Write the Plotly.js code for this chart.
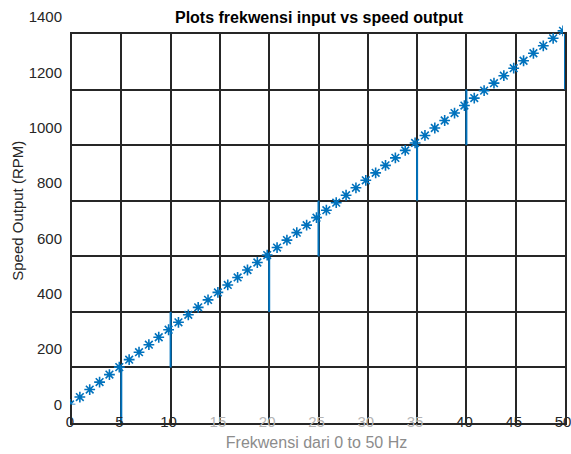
<!DOCTYPE html>
<html>
<head>
<meta charset="utf-8">
<script src="https://cdn.plot.ly/plotly-3.0.1.min.js"></script>
<style>html,body{margin:0;padding:0;background:#fff;}#chart{width:571px;height:454px;}</style>
</head>
<body>
<div id="chart"></div>
<script>
// Data
const frequency = [0,1,2,3,4,5,6,7,8,9,10,11,12,13,14,15,16,17,18,19,20,21,22,23,24,25,26,27,28,29,30,31,32,33,34,35,36,37,38,39,40,41,42,43,44,45,46,47,48,49,50];
const speedRPM = [0,27,54,81,108,135,162,189,216,243,270,297,324,351,378,405,432,459,486,513,540,567,594,621,648,675,702,729,756,783,810,837,864,891,918,945,972,999,1026,1053,1080,1107,1134,1161,1188,1215,1242,1269,1296,1323,1350];
// Blue vertical segments visible on the grid
const segX = [5,10,20,25,35,40,50];
const segFrom = [-70,131,332,533,735,936,1137];
const segTo = [131,332,533,735,936,1137,1338];
// Tick labels
const xTickVals = [0,5,10,15,20,25,30,35,40,45,50];
const xTickText = ['0','5','10','15','20','25','30','35','40','45','50'];
const xTickFaded = [false,false,false,true,true,true,true,true,false,false,false];
const yTickVals = [0,200,400,600,800,1000,1200,1400];

const segXs = [], segYs = [];
for (let i = 0; i < segX.length; i++) {
  segXs.push(segX[i], segX[i], null);
  segYs.push(segFrom[i], segTo[i], null);
}

const font = 'Liberation Sans, Arial, Helvetica, sans-serif';
const W = 571, H = 454;
const m = {l: 70, r: 6, t: 10, b: 31};
const pw = W - m.l - m.r, ph = H - m.t - m.b;
const py = p => (H - m.b - p) / ph;   // pixel y -> paper fraction
const px = p => (p - m.l) / pw;       // pixel x -> paper fraction

const traces = [
  {
    x: segXs, y: segYs, xaxis: 'x', yaxis: 'y',
    mode: 'lines', line: {color: '#0072BD', width: 2},
    hoverinfo: 'skip', showlegend: false
  },
  {
    x: frequency, y: speedRPM, xaxis: 'x2', yaxis: 'y2',
    mode: 'markers',
    marker: {symbol: 'asterisk-open', size: 9, color: '#0072BD', line: {color: '#0072BD', width: 1.6}},
    showlegend: false
  }
];

const layout = {
  width: W, height: H,
  margin: m,
  paper_bgcolor: '#fff', plot_bgcolor: 'rgba(0,0,0,0)',
  font: {family: font, color: '#262626', size: 15},
  title: {
    text: '<b>Plots frekwensi input vs speed output</b>',
    font: {family: font, size: 16, color: '#000'},
    x: px(319), xanchor: 'center', xref: 'paper',
    y: 1 - 17 / H, yanchor: 'middle', yref: 'container'
  },
  xaxis: {
    domain: [px(72), 1], range: [0, 50],
    tick0: 0, dtick: 5, showticklabels: false, ticks: '',
    showgrid: true, gridcolor: '#262626', gridwidth: 2,
    zeroline: false, showline: true, mirror: true, linecolor: '#262626', linewidth: 2,
    anchor: 'y', fixedrange: true
  },
  yaxis: {
    domain: [0, py(34)], range: [-70, 1338],
    tick0: -70, dtick: 1408 / 7, showticklabels: false, ticks: '',
    showgrid: true, gridcolor: '#262626', gridwidth: 2,
    zeroline: false, showline: true, mirror: true, linecolor: '#262626', linewidth: 2,
    anchor: 'x', fixedrange: true
  },
  xaxis2: {
    domain: [0, px(563)], range: [0, 50], anchor: 'y2',
    tickmode: 'array', tickvals: xTickVals,
    ticktext: xTickText.map((t, i) => xTickFaded[i] ? '<span style="color:#b4b4b4">' + t + '</span>' : t),
    tickfont: {family: font, size: 15, color: '#262626'},
    ticks: '', ticklabelstandoff: 6, ticklabeloverflow: 'allow',
    showgrid: false, zeroline: false, showline: false, fixedrange: true,
    title: {text: 'Frekwensi dari 0 to 50 Hz', font: {family: font, size: 16, color: '#8c8c8c'}, standoff: 8}
  },
  yaxis2: {
    domain: [py(404.5), py(17)], range: [0, 1400], anchor: 'x2',
    tickmode: 'array', tickvals: yTickVals,
    tickfont: {family: font, size: 15, color: '#262626'},
    ticks: '', ticklabelstandoff: 7, ticklabeloverflow: 'allow',
    showgrid: false, zeroline: false, showline: false, fixedrange: true,
    title: {text: 'Speed Output (RPM)', font: {family: font, size: 15, color: '#262626'}, standoff: 1}
  }
};

Plotly.newPlot('chart', traces, layout, {displayModeBar: false, staticPlot: true});
</script>
</body>
</html>
